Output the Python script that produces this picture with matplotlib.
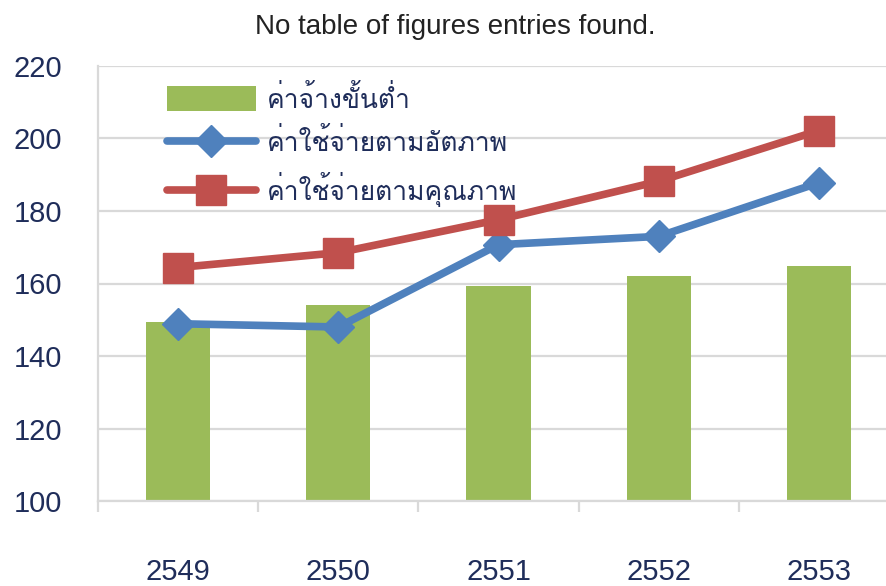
import numpy as np
import matplotlib
matplotlib.use("Agg")
import matplotlib.pyplot as plt

# data
years = ["2549", "2550", "2551", "2552", "2553"]
min_wage = [149.5, 154, 159.4, 162.2, 164.7]
cost_basic = [148.9, 148.0, 170.7, 173.0, 187.8]
cost_quality = [164.4, 168.5, 177.6, 188.2, 202.2]
labels = ["ค่าจ้างขั้นต่ำ", "ค่าใช้จ่ายตามอัตภาพ", "ค่าใช้จ่ายตามคุณภาพ"]
y_ticks = [100, 120, 140, 160, 180, 200, 220]

text_col = "#1F2D5A"
grid_col = "#D9D9D9"

fig = plt.figure(figsize=(8.86, 5.86), dpi=100)
ax = fig.add_axes([98 / 886, 1 - 501 / 586, 801 / 886, 435 / 586])

x = np.arange(len(years))
bars = ax.bar(x, np.array(min_wage) - 100, bottom=100, width=0.4,
              color="#9BBB59", label=labels[0], zorder=2)
l1, = ax.plot(x, cost_basic, color="#4F81BD", lw=5.5, marker="D", ms=16,
              solid_capstyle="round", label=labels[1], zorder=3)
l2, = ax.plot(x, cost_quality, color="#C0504D", lw=5.5, marker="s", ms=22,
              solid_capstyle="round", label=labels[2], zorder=3)

ax.set_xlim(-0.5, len(years) - 0.5)
ax.set_ylim(100, 220)
ax.set_yticks(y_ticks)
ax.set_yticklabels([str(v) for v in y_ticks], family="Liberation Sans",
                   fontsize=21, color=text_col)
ax.tick_params(axis="y", length=0, pad=26)
ax.yaxis.grid(True, color=grid_col, lw=1.6, zorder=0)
ax.set_axisbelow(True)

# category labels at centres, tick marks at boundaries
ax.set_xticks(x)
ax.set_xticklabels(years, family="Liberation Sans", fontsize=21, color=text_col)
ax.tick_params(axis="x", which="major", length=0, pad=41)
ax.set_xticks(np.arange(-0.5, len(years), 1.0), minor=True)
ax.tick_params(axis="x", which="minor", length=8, width=1.6, color=grid_col)

for s in ["top", "right"]:
    ax.spines[s].set_visible(False)
for s in ["left", "bottom"]:
    ax.spines[s].set_color(grid_col)
    ax.spines[s].set_linewidth(1.6)

leg = ax.legend([bars, l1, l2], labels, loc="upper left",
                bbox_to_anchor=(0.056, 1.012), frameon=False,
                handlelength=3.4, handleheight=1.05, labelspacing=0.6,
                handletextpad=0.4,
                prop={"family": ["Loma", "DejaVu Sans"], "size": 19})
for t in leg.get_texts():
    t.set_color(text_col)

fig.text(0.514, 1 - 27 / 586, "No table of figures entries found.",
         ha="center", va="center", family="Liberation Sans", fontsize=20,
         color="#222222")

fig.savefig("out.png", dpi=100)
